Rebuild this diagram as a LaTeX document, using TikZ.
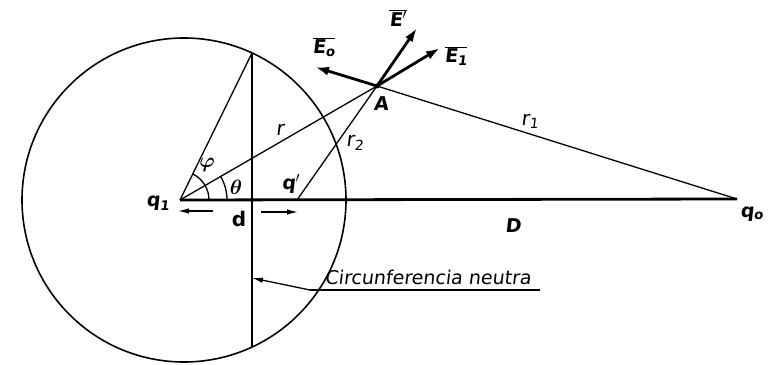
\documentclass[tikz,border=0pt]{standalone}
\usepackage{fontspec}
\setmainfont{DejaVu Sans}
\newfontfamily\hand[FakeSlant=0.12]{DejaVu Sans}
\usetikzlibrary{arrows.meta}
\begin{document}
\begin{tikzpicture}[x=1pt,y=1pt,
  thinline/.style={line width=1.3pt},
  thickline/.style={line width=2.8pt},
  vec/.style={line width=2.8pt,-{Latex[length=14pt,width=9pt]}},
  smallarrow/.style={line width=1.3pt,-{Latex[length=11pt,width=5.5pt]}},
  lbl/.style={font=\hand\bfseries\fontsize{19}{19}\selectfont, inner sep=0pt},
  rlbl/.style={font=\hand\fontsize{20}{20}\selectfont, inner sep=0pt},
  mlbl/.style={font=\boldmath\fontsize{20}{20}\selectfont, inner sep=0pt}]
\useasboundingbox (0,0) rectangle (770,364);
% points
\coordinate (O) at (184,164);
\coordinate (q1) at (180,164);
\coordinate (q0) at (737,165);
\coordinate (T) at (252,311);
\coordinate (Bt) at (252,17);
\coordinate (A) at (377,278);
\coordinate (qp) at (297,164);
\coordinate (E0) at (315,297);
\coordinate (Ep) at (417,336);
\coordinate (E1) at (440,316);
\coordinate (P) at (252,86);
\coordinate (U1) at (310,74);
\coordinate (U2) at (540,74);
\coordinate (la1) at (213,153);
\coordinate (la2) at (178,153);
\coordinate (ra1) at (261,152);
\coordinate (ra2) at (298,152);
% geometry
\draw[line width=1.6pt] (O) circle (162);
\draw[thinline] (q1) -- (T);
\draw[thinline] (q1) -- (A) -- (q0);
\draw[thinline] (qp) -- (A);
\draw[thickline] (q1) -- (q0);
\draw[line width=2.4pt] (T) -- (Bt);
\draw[thinline] (q1) ++(29,0) arc[start angle=0,end angle=64,radius=29];
\draw[thinline] (q1) ++(47,0) arc[start angle=0,end angle=30.3,radius=47];
% vectors
\draw[vec] (A) -- (E0);
\draw[vec] (A) -- (Ep);
\draw[vec] (A) -- (E1);
\fill (A) circle (2.5);
% small arrows
\draw[smallarrow] (la1) -- (la2);
\draw[smallarrow] (ra1) -- (ra2);
\draw[thinline] (U2) -- (U1);
\draw[smallarrow] (U1) -- (P);
% labels
\node[lbl] (lE0) at (324,317) {$\overline{\mbox{E\textsubscript{o}}}$};
\node[lbl] (lEp) at (398,346) {$\overline{\mbox{E$'$}}$};
\node[lbl] (lE1) at (456,308) {$\overline{\mbox{E\textsubscript{1}}}$};
\node[lbl] (lA) at (381,260) {A};
\node[rlbl] (lr) at (280,234) {r};
\node[rlbl] (lr1) at (530,243) {r\textsubscript{1}};
\node[rlbl] (lr2) at (355,221) {r\textsubscript{2}};
\node[mlbl] (lphi) at (207,199) {$\varphi$};
\node[mlbl] (lth) at (236,177) {$\theta$};
\node[lbl] (lq1) at (158,161) {q\textsubscript{1}};
\node[lbl] (lqp) at (291,180) {q$'$};
\node[lbl,font=\bfseries\fontsize{20}{20}\selectfont] (ld) at (239,145) {d};
\node[lbl] (lD) at (513,138) {D};
\node[lbl] (lq0) at (752,150) {q\textsubscript{o}};
\node[font=\hand\fontsize{19}{19}\selectfont, anchor=base, inner sep=0pt] (cn) at (428,80) {Circunferencia neutra};
\end{tikzpicture}
\end{document}
